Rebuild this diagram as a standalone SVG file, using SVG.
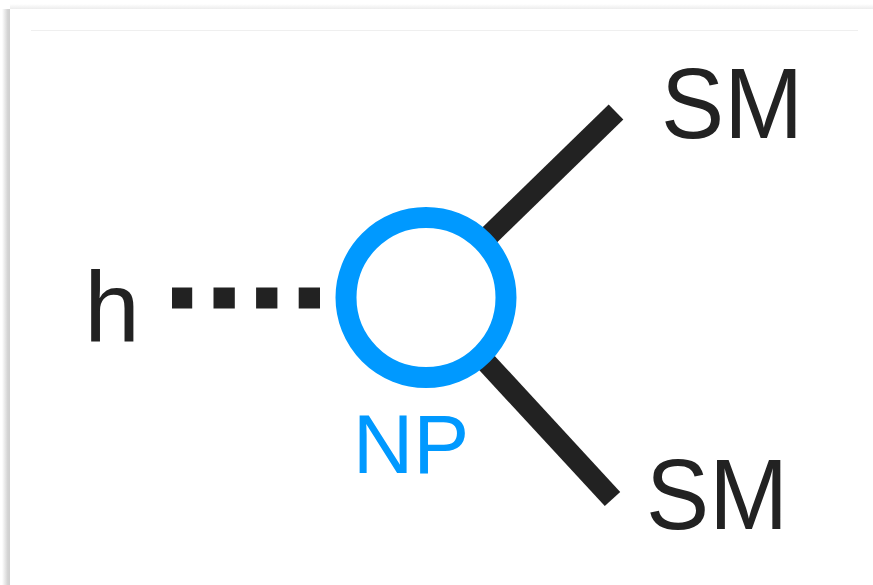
<svg xmlns="http://www.w3.org/2000/svg" width="873" height="585" viewBox="0 0 873 585">
  <defs>
    <linearGradient id="shadowL" x1="0" y1="0" x2="1" y2="0">
      <stop offset="0" stop-color="#ffffff"/>
      <stop offset="0.7" stop-color="#d4d4d4"/>
      <stop offset="1" stop-color="#cfcfcf"/>
    </linearGradient>
    <linearGradient id="shadowT" x1="0" y1="0" x2="0" y2="1">
      <stop offset="0" stop-color="#ffffff"/>
      <stop offset="1" stop-color="#ececec"/>
    </linearGradient>
  </defs>
  <style>
    .lbl { font-family: "Liberation Sans", Arial, sans-serif; fill: #222222; text-anchor: middle; }
    .edge { stroke: #222222; stroke-width: 21; fill: none; stroke-linecap: butt; }
  </style>
  <rect x="0" y="0" width="873" height="585" fill="#ffffff"/>
  <g id="frame">
    <rect x="10" y="4" width="863" height="5" fill="url(#shadowT)"/>
    <rect x="2" y="9" width="8" height="576" fill="url(#shadowL)"/>
    <line x1="31" y1="30.5" x2="858" y2="30.5" stroke="#efefef" stroke-width="1"/>
  </g>
  <g id="connectors">
    <line class="edge" x1="320" y1="298" x2="172" y2="298" stroke-dasharray="21.3 21.3"/>
    <line class="edge" x1="426" y1="297" x2="616" y2="112"/>
    <line class="edge" x1="426" y1="297" x2="612.5" y2="499"/>
  </g>
  <g id="node-np">
    <circle cx="426" cy="297.5" r="80" fill="#ffffff" stroke="#0099ff" stroke-width="21"/>
    <text class="lbl" x="411" y="472.5" font-size="84" style="fill:#0099ff">NP</text>
  </g>
  <g id="node-h">
    <text class="lbl" x="112" y="341.5" font-size="100">h</text>
  </g>
  <g id="node-sm-top">
    <text class="lbl" x="732" y="138.3" font-size="100" textLength="142" lengthAdjust="spacingAndGlyphs">SM</text>
  </g>
  <g id="node-sm-bottom">
    <text class="lbl" x="717" y="529.3" font-size="100" textLength="142" lengthAdjust="spacingAndGlyphs">SM</text>
  </g>
</svg>
